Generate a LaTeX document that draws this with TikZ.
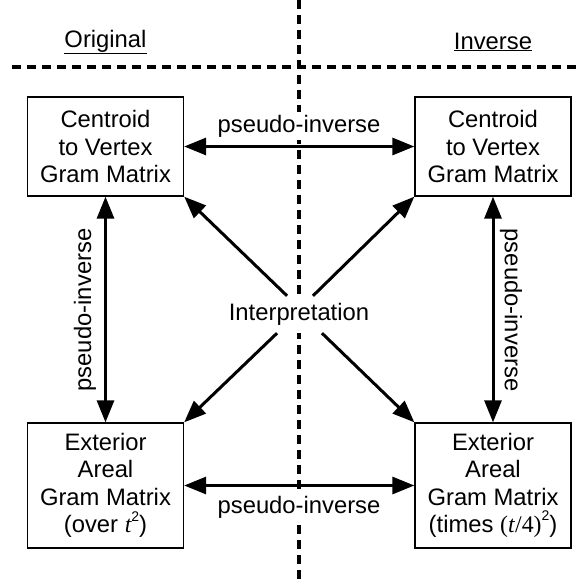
\documentclass[tikz,border=0pt]{standalone}
\usepackage{fontspec}
\setmainfont{Liberation Sans}
\newfontfamily\tms{Liberation Serif}
\usetikzlibrary{arrows.meta,calc}
\newcommand{\sqsup}{\raisebox{0.5em}{\fontsize{14}{14}\selectfont 2}}
\begin{document}
\begin{tikzpicture}[x=1pt,y=-1pt,
  every node/.style={font=\fontsize{23.8}{27.5}\selectfont},
  box/.style={draw,line width=1.3pt,align=center,inner sep=0pt,minimum width=156pt},
  divider/.style={line width=3.5pt,dash pattern=on 9pt off 6pt},
  conn/.style={line width=3pt,-{Triangle[length=22pt,width=17pt]}},
  biconn/.style={line width=3pt,{Triangle[length=22pt,width=17pt]}-{Triangle[length=22pt,width=17pt]}},
  lbl/.style={fill=white,inner sep=3pt}]
\useasboundingbox (0,0) rectangle (579,585);
% dividers
\coordinate (vtop) at (299,0);
\coordinate (vbot) at (299,582);
\coordinate (hl) at (12,67);
\coordinate (hr) at (579,67);
\draw[divider] (vtop) -- (vbot);
\draw[divider] (hl) -- (hr);
% headings
\node (orig) at (105.5,42) {\underline{Original}};
\node (inv) at (493,42) {\underline{Inverse}};
% boxes
\node[box,minimum height=99pt] (cvo) at (105.5,146.5) {Centroid\\to Vertex\\Gram Matrix};
\node[box,minimum height=99pt] (cvi) at (493,146.5) {Centroid\\to Vertex\\Gram Matrix};
\node[box,minimum height=125pt] (eao) at (105.5,485.5) {Exterior\\Areal\\Gram Matrix\\(over {\tms\itshape t}\sqsup)};
\node[box,minimum height=125pt] (eai) at (493,485.5) {Exterior\\Areal\\Gram Matrix\\(times {\tms(\textit{t}/4)}\sqsup)};
% labels
\node[lbl] (ptop) at (299,126) {pseudo-inverse};
\node[lbl] (pbot) at (299,507) {pseudo-inverse};
\node[rotate=90] (pleft) at (85,310) {pseudo-inverse};
\node[rotate=-90] (pright) at (511,310) {pseudo-inverse};
\node[fill=white,inner sep=0pt,minimum height=37pt,minimum width=150pt] (interp) at (299,314.5) {Interpretation};
% connectors
\draw[biconn] (cvo.east) -- (cvi.west);
\draw[biconn] (eao.east) -- (eai.west);
\draw[biconn] (cvo.south) -- (eao.north);
\draw[biconn] (cvi.south) -- (eai.north);
\draw[conn] ($(interp.north)+(-12pt,0pt)$) -- (cvo.south east);
\draw[conn] ($(interp.north)+(14pt,0pt)$) -- (cvi.south west);
\draw[conn] ($(interp.south)+(-22pt,0pt)$) -- (eao.north east);
\draw[conn] ($(interp.south)+(23pt,0pt)$) -- (eai.north west);
\end{tikzpicture}
\end{document}
